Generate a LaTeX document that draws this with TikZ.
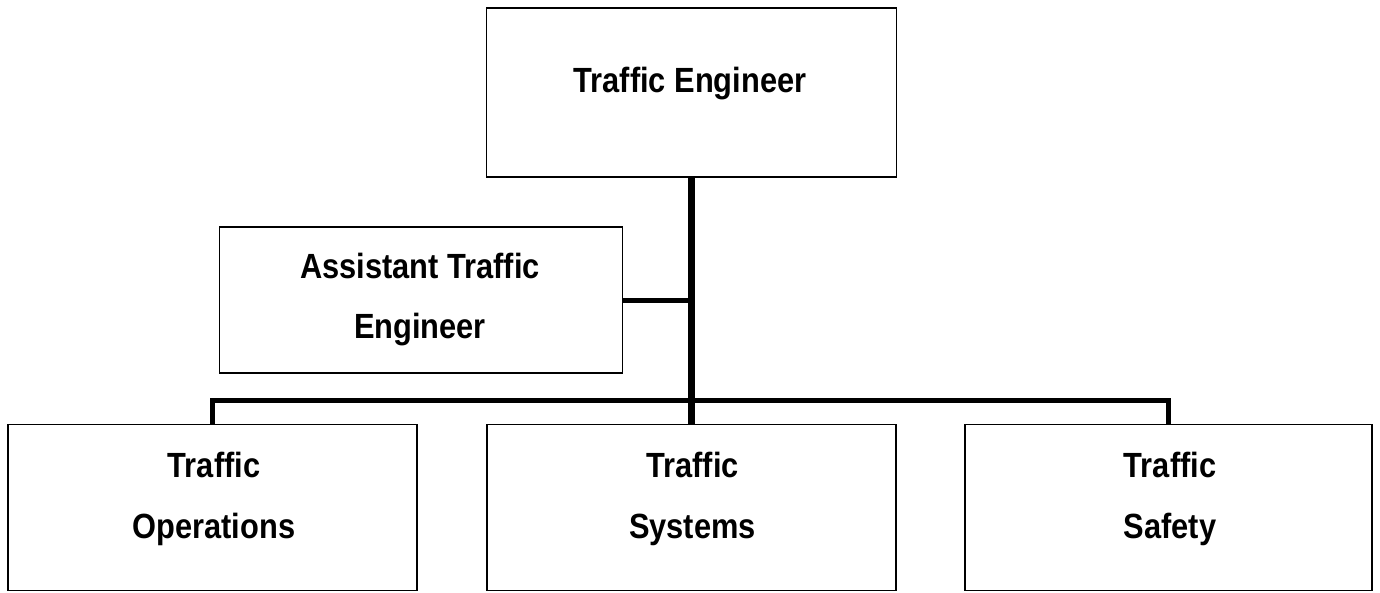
\documentclass[tikz,border=0pt]{standalone}
\usepackage{fontspec}
\newfontfamily\chartfont[FakeStretch=0.88]{Liberation Sans}
\begin{document}
\begin{tikzpicture}[x=1pt,y=-1pt,
  unit/.style={draw=black,line width=1.6pt,fill=white,inner sep=0pt,
    minimum width=#1,minimum height=166pt},
  unit/.default=409pt,
  caption/.style={anchor=base,inner sep=0pt,
    font=\chartfont\bfseries\fontsize{35}{42}\selectfont},
  trunk/.style={line width=6.5pt,line cap=butt},
  branch/.style={line width=5pt,line join=miter,line cap=butt}]
\useasboundingbox (0,0) rectangle (1380,592);

% boxes
\node[unit=410pt,minimum height=169pt] (chief) at (691.5,92.5) {};
\node[unit=403pt,minimum height=146pt] (asst)  at (421,300) {};
\node[unit] (ops) at (212.5,507.5) {};
\node[unit] (sys) at (691.5,507.5) {};
\node[unit=407pt] (saf) at (1168.5,507.5) {};
\coordinate (hub) at (691.5,400);

% connectors
\draw[trunk] (chief.south) -- (sys.north);
\draw[branch] (asst.east) -- (asst.east -| chief.south);
\draw[branch] (ops.north) |- (hub) -| (saf.north);

% titles
\node[caption] (chiefT) at (690,92) {Traffic Engineer};
\node[caption] (asstA) at (420,278) {Assistant Traffic};
\node[caption] (asstB) at (420,338) {Engineer};
\node[caption] (opsA) at (214,477) {Traffic};
\node[caption] (opsB) at (214,538) {Operations};
\node[caption] (sysA) at (692.5,477) {Traffic};
\node[caption] (sysB) at (692.5,538) {Systems};
\node[caption] (safA) at (1170,477) {Traffic};
\node[caption] (safB) at (1170,538) {Safety};
\end{tikzpicture}
\end{document}
